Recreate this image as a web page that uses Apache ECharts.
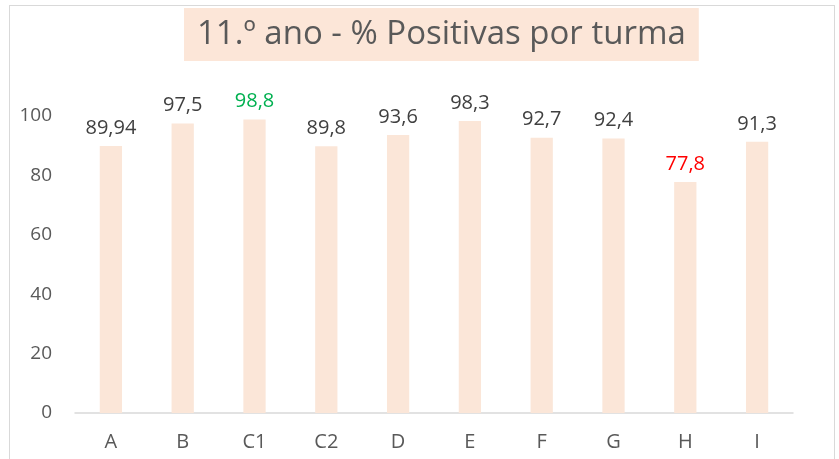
<!DOCTYPE html>
<html>
<head>
<meta charset="utf-8">
<script src="https://cdn.jsdelivr.net/npm/echarts@6/dist/echarts.min.js"></script>
<style>
  html, body { margin: 0; padding: 0; background: #fff; }
  .frame {
    position: absolute; left: 9px; top: 5px; width: 826px; height: 470px;
    border: 1px solid #d9d9d9; box-sizing: border-box;
  }
  #chart { position: absolute; left: 0; top: 0; width: 839px; height: 459px; }
</style>
</head>
<body>
<div class="frame"></div>
<div id="chart"></div>
<script>
const categories = ['A', 'B', 'C1', 'C2', 'D', 'E', 'F', 'G', 'H', 'I']
const values = [89.94, 97.5, 98.8, 89.8, 93.6, 98.3, 92.7, 92.4, 77.8, 91.3]
const labelColors = ['#404040', '#404040', '#00B050', '#404040', '#404040', '#404040', '#404040', '#404040', '#FF0000', '#404040']

const chart = echarts.init(document.getElementById('chart'))

const option = {
  animation: false,
  title: {
    text: '11.º ano - % Positivas por turma',
    left: 184,
    top: 8,
    padding: [10, 13, 10, 13],
    backgroundColor: '#FCE6D8',
    textStyle: {
      color: '#595959',
      fontSize: 33,
      fontWeight: 'normal',
      fontFamily: 'Open Sans'
    }
  },
  grid: { left: 75, right: 46, top: 116, bottom: 46 },
  xAxis: {
    type: 'category',
    data: categories,
    axisLine: { lineStyle: { color: '#d9d9d9', width: 1.5 } },
    axisTick: { show: false },
    axisLabel: { color: '#595959', fontSize: 20, fontFamily: 'Open Sans', margin: 19 }
  },
  yAxis: {
    type: 'value',
    min: 0,
    max: 100,
    interval: 20,
    splitLine: { show: false },
    axisLine: { show: false },
    axisTick: { show: false },
    axisLabel: { color: '#595959', fontSize: 19, fontFamily: 'Open Sans', margin: 23 }
  },
  series: [{
    type: 'bar',
    barWidth: '31%',
    data: values.map((v, i) => ({
      value: v,
      label: { color: labelColors[i] }
    })),
    itemStyle: { color: '#FBE6D8' },
    label: {
      show: true,
      position: 'top',
      distance: 8,
      fontSize: 20,
      fontFamily: 'Open Sans',
      formatter: p => String(p.value).replace('.', ',')
    }
  }]
}

chart.setOption(option)
</script>
</body>
</html>
